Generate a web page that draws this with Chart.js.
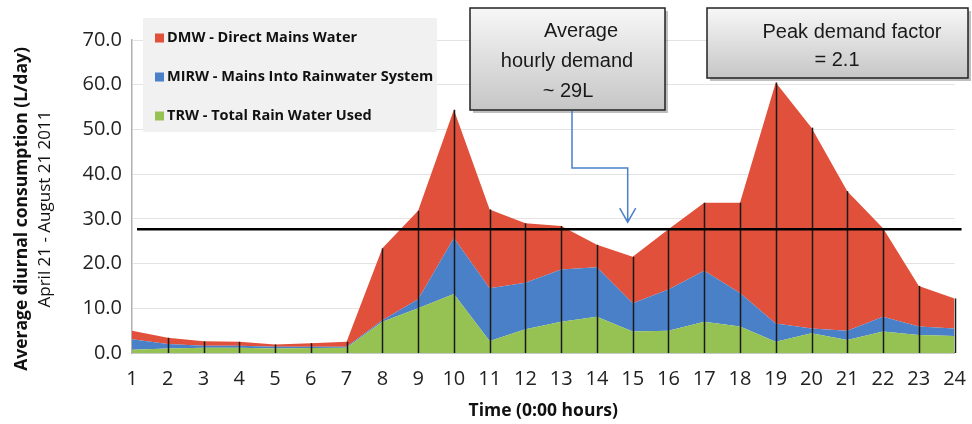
<!DOCTYPE html>
<html>
<head>
<meta charset="utf-8">
<script src="https://cdn.jsdelivr.net/npm/chart.js@4/dist/chart.umd.min.js"></script>
<style>
  html, body { margin: 0; padding: 0; background: #fff; }
  #wrap { width: 972px; height: 424px; }
</style>
</head>
<body>
<div id="wrap"><canvas id="diurnal-chart"></canvas></div>
<script>
// hours of the day
var hours = ["1","2","3","4","5","6","7","8","9","10","11","12","13","14","15","16","17","18","19","20","21","22","23","24"];
// stacked components (L/day), bottom to top
var trw  = [0.7,1.0,1.2,1.2,1.0,1.1,1.2,7.0,10.0,13.2,2.7,5.3,7.0,8.1,4.8,5.0,7.0,5.9,2.5,4.4,2.9,4.8,4.0,3.8];
var mirw = [2.4,1.0,0.4,0.4,0.4,0.3,0.2,0.3,2.0,12.5,11.8,10.4,11.7,11.1,6.3,9.2,11.4,7.5,4.1,1.1,2.1,3.3,1.9,1.7];
var dmw  = [1.9,1.4,1.0,0.9,0.5,0.8,1.1,16.1,19.8,28.7,17.6,13.3,9.7,5.0,10.4,13.5,15.2,20.2,53.9,44.9,31.2,19.8,9.1,6.7];
var avgDemand = 27.7;
var yTicks = [0,10,20,30,40,50,60,70];

var seriesNames = ["DMW - Direct Mains Water", "MIRW - Mains Into Rainwater System", "TRW - Total Rain Water Used"];
var seriesColors = ["#e0503a", "#4a80c8", "#95c252"];

var overlay = {
  id: 'overlay',
  afterDatasetsDraw: function(chart) {
    var ctx = chart.ctx, x = chart.scales.x, y = chart.scales.y, area = chart.chartArea;
    ctx.save();
    // drop lines from the top of the stack
    ctx.strokeStyle = '#1a1a1a';
    ctx.lineWidth = 1.5;
    for (var i = 1; i < hours.length; i++) {
      var total = trw[i] + mirw[i] + dmw[i];
      var px = Math.round(x.getPixelForValue(i)) + 0.5;
      ctx.beginPath();
      ctx.moveTo(px, y.getPixelForValue(total));
      ctx.lineTo(px, y.getPixelForValue(0));
      ctx.stroke();
    }
    // average demand line
    var ay = y.getPixelForValue(avgDemand);
    ctx.strokeStyle = '#000';
    ctx.lineWidth = 2.5;
    ctx.beginPath();
    ctx.moveTo(x.getPixelForValue(0) + 5, ay);
    ctx.lineTo(area.right + 7, ay);
    ctx.stroke();

    // legend box
    ctx.fillStyle = 'rgba(240,240,240,0.95)';
    ctx.fillRect(143, 18, 294, 114);
    ctx.font = 'bold 14.5px "Open Sans"';
    ctx.textBaseline = 'middle';
    for (var k = 0; k < seriesNames.length; k++) {
      var ly = 38 + k * 39;
      ctx.fillStyle = seriesColors[k];
      ctx.fillRect(155, ly - 4.5, 9, 9);
      ctx.fillStyle = '#111';
      ctx.fillText(seriesNames[k], 167, ly);
    }

    // callout boxes
    function box(l, t, w, h, lines, cx, ys) {
      ctx.fillStyle = 'rgba(0,0,0,0.25)';
      ctx.fillRect(l + 3, t + 3, w, h);
      var g = ctx.createLinearGradient(0, t, 0, t + h);
      g.addColorStop(0, '#f7f7f7');
      g.addColorStop(1, '#c6c6c6');
      ctx.fillStyle = g;
      ctx.fillRect(l, t, w, h);
      ctx.strokeStyle = '#222';
      ctx.lineWidth = 1.5;
      ctx.strokeRect(l, t, w, h);
      ctx.fillStyle = '#1a1a1a';
      ctx.font = '20px "Liberation Sans"';
      ctx.textAlign = 'center';
      for (var j = 0; j < lines.length; j++) ctx.fillText(lines[j], cx[j], ys[j]);
      ctx.textAlign = 'left';
    }
    box(470, 8, 195, 102, ["Average", "hourly demand", "~ 29L"], [581, 567, 568], [31, 61, 91]);
    box(707, 8, 261, 70, ["Peak demand factor", "= 2.1"], [852, 837], [32, 60]);

    // arrow to the average line
    var tipX = x.getPixelForValue(14) - 5;
    var tipY = ay - 7;
    ctx.strokeStyle = '#4a80c8';
    ctx.lineWidth = 1.5;
    ctx.beginPath();
    ctx.moveTo(572, 111);
    ctx.lineTo(572, 168);
    ctx.lineTo(tipX, 168);
    ctx.lineTo(tipX, tipY);
    ctx.moveTo(tipX - 8, tipY - 14);
    ctx.lineTo(tipX, tipY);
    ctx.lineTo(tipX + 8, tipY - 14);
    ctx.stroke();

    // axis titles
    ctx.fillStyle = '#111';
    ctx.textAlign = 'center';
    ctx.font = 'bold 17.5px "Open Sans"';
    ctx.fillText('Time (0:00 hours)', (area.left + area.right) / 2, 411);
    ctx.translate(22, 209);
    ctx.rotate(-Math.PI / 2);
    ctx.fillText('Average diurnal consumption (L/day)', 0, 0);
    ctx.font = '17px "Open Sans"';
    ctx.fillText('April 21 - August 21 2011', 0, 23);
    ctx.restore();
  }
};

new Chart(document.getElementById("diurnal-chart"), {
  type: 'line',
  data: {
    labels: hours,
    datasets: [{
        data: trw,
        label: seriesNames[2],
        backgroundColor: seriesColors[2],
        borderWidth: 0,
        fill: 'origin'
      }, {
        data: mirw,
        label: seriesNames[1],
        backgroundColor: seriesColors[1],
        borderWidth: 0,
        fill: '-1'
      }, {
        data: dmw,
        label: seriesNames[0],
        backgroundColor: seriesColors[0],
        borderWidth: 0,
        fill: '-1'
      }
    ]
  },
  plugins: [overlay],
  options: {
    responsive: true,
    maintainAspectRatio: false,
    animation: false,
    elements: { point: { radius: 0 }, line: { tension: 0 } },
    layout: { padding: { top: 40, right: 11, left: 0, bottom: 0 } },
    plugins: { legend: { display: false }, tooltip: { enabled: false } },
    scales: {
      x: {
        offset: false,
        grid: { display: false },
        border: { color: '#b0b0b0', width: 1.5 },
        ticks: { color: '#222', font: { family: 'Open Sans', size: 20 }, padding: 6, maxRotation: 0, autoSkip: false },
        afterFit: function(s) { s.height = 71; }
      },
      y: {
        stacked: true,
        min: 0,
        max: 70,
        afterBuildTicks: function(s) { s.ticks = yTicks.map(function(v) { return { value: v }; }); },
        grid: { color: '#e3e3e3', drawTicks: false },
        border: { color: '#b0b0b0', width: 1.5 },
        ticks: {
          color: '#222',
          font: { family: 'Open Sans', size: 20 },
          padding: 10,
          callback: function(value) { return value.toFixed(1); }
        },
        afterFit: function(s) { s.width = 132; }
      }
    }
  }
});
</script>
</body>
</html>
